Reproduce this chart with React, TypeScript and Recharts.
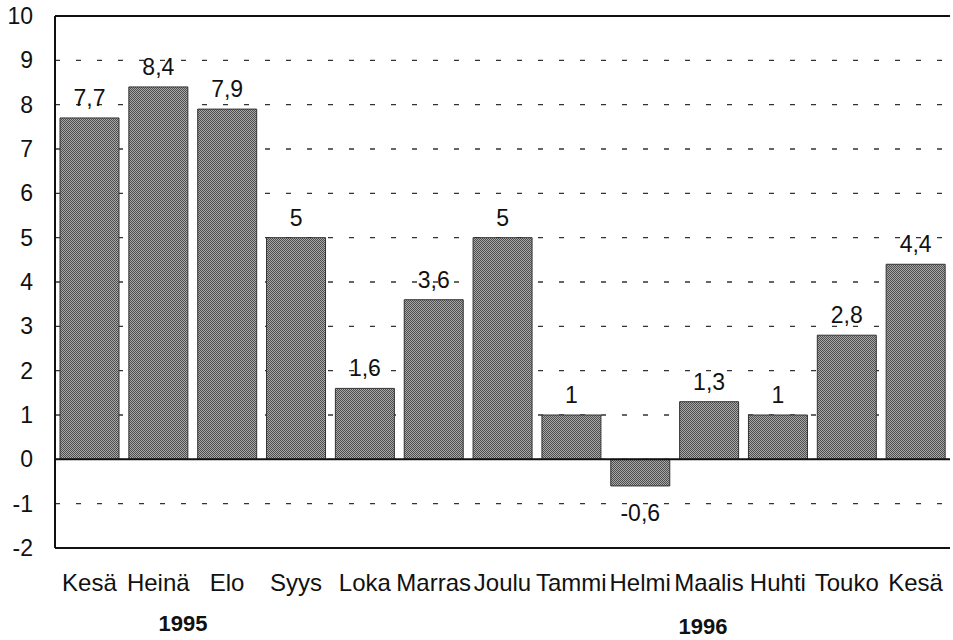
import React from 'react';
import {
  BarChart,
  Bar,
  XAxis,
  YAxis,
  CartesianGrid,
  ReferenceLine,
  LabelList,
} from 'recharts';

const months = ['Kesä', 'Heinä', 'Elo', 'Syys', 'Loka', 'Marras', 'Joulu', 'Tammi', 'Helmi', 'Maalis', 'Huhti', 'Touko', 'Kesä'];
const values = [7.7, 8.4, 7.9, 5, 1.6, 3.6, 5, 1, -0.6, 1.3, 1, 2.8, 4.4];
const yTicks = [-2, -1, 0, 1, 2, 3, 4, 5, 6, 7, 8, 9, 10];
const years = ['1995', '1996'];

const data = months.map((m, i) => ({ key: `${m}-${i}`, month: m, value: values[i] }));

const FONT = '"Liberation Sans", Arial, Helvetica, sans-serif';

const BarLabel = (props: any) => {
  const { x, y, width, height, value } = props;
  const top = Math.min(y, y + height);
  const bottom = Math.max(y, y + height);
  const text = String(value).replace('.', ',');
  const cx = x + width / 2;
  if (value < 0) {
    return (
      <text x={cx} y={bottom + 19} dy="0.71em" textAnchor="middle" fontSize={23} fill="#111" fontFamily={FONT}>
        {text}
      </text>
    );
  }
  return (
    <text x={cx} y={top - 12} textAnchor="middle" fontSize={23} fill="#111" fontFamily={FONT}>
      {text}
    </text>
  );
};

const App: React.FC = () => {
  return (
    <div style={{ position: 'absolute', left: 0, top: 0, width: 953, height: 640, background: '#fff', fontFamily: FONT }}>
      <BarChart
        width={953}
        height={640}
        data={data}
        margin={{ top: 16, right: 3, left: 0, bottom: 32 }}
        barCategoryGap={5}
      >
        <defs>
          <pattern id="stipple" width="2" height="2" patternUnits="userSpaceOnUse">
            <rect width="2" height="2" fill="#a8a8a8" />
            <rect width="1" height="1" fill="#4e4e4e" />
            <rect x="1" y="1" width="1" height="1" fill="#4e4e4e" />
          </pattern>
        </defs>
        <CartesianGrid vertical={false} stroke="#333" strokeDasharray="5 16" strokeWidth={1.3} />
        <XAxis
          dataKey="key"
          tickFormatter={(v: string) => v.split('-')[0]}
          axisLine={{ stroke: '#111', strokeWidth: 2 }}
          tickLine={false}
          tickMargin={20}
          height={60}
          interval={0}
          tick={{ fontSize: 24, fill: '#111', fontFamily: FONT }}
        />
        <YAxis
          domain={[-2, 10]}
          ticks={yTicks}
          interval={0}
          width={55}
          axisLine={{ stroke: '#111', strokeWidth: 2 }}
          tickLine={false}
          tickMargin={16}
          tick={{ fontSize: 23, fill: '#111', fontFamily: FONT }}
        />
        <YAxis yAxisId="right" orientation="right" width={0} domain={[-2, 10]} tick={false} tickLine={false} axisLine={{ stroke: '#111', strokeWidth: 2 }} />
        <ReferenceLine y={10} stroke="#111" strokeWidth={2} />
        <ReferenceLine y={0} stroke="#111" strokeWidth={2} />
        <Bar dataKey="value" fill="url(#stipple)" stroke="#333" strokeWidth={1} isAnimationActive={false}>
          <LabelList dataKey="value" content={BarLabel} />
        </Bar>
      </BarChart>
      <div style={{ position: 'absolute', left: 143, top: 611, width: 80, textAlign: 'center', fontSize: 22, fontWeight: 'bold', color: '#111' }}>
        {years[0]}
      </div>
      <div style={{ position: 'absolute', left: 663, top: 614, width: 80, textAlign: 'center', fontSize: 22, fontWeight: 'bold', color: '#111' }}>
        {years[1]}
      </div>
    </div>
  );
};

export default App;
